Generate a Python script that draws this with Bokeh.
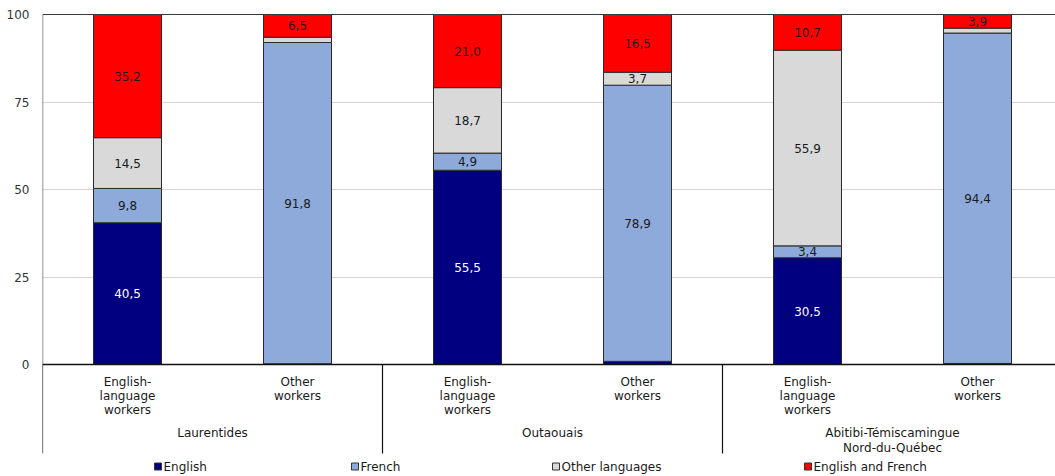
from bokeh.plotting import figure
from bokeh.models import ColumnDataSource, Range1d, FixedTicker
from bokeh.core.properties import value
from bokeh.embed import file_html
from bokeh.resources import INLINE

# Share of workers by language used at work, by region and worker group (%)
regions = ["Laurentides", "Outaouais", "Abitibi-Témiscamingue\nNord-du-Québec"]
worker_groups = ["English-\nlanguage\nworkers", "Other\nworkers"]
series = ["English", "French", "Other languages", "English and French"]
english = [40.5, 0.2, 55.5, 0.9, 30.5, 0.3]
french = [9.8, 91.8, 4.9, 78.9, 3.4, 94.4]
other_languages = [14.5, 1.5, 18.7, 3.7, 55.9, 1.4]
english_and_french = [35.2, 6.5, 21.0, 16.5, 10.7, 3.9]
y_ticks = [0, 25, 50, 75, 100]

colors = ["#000080", "#8eaadb", "#d9d9d9", "#ff0000"]
label_colors = ["#ffffff", "#1a1a1a", "#1a1a1a", "#1a1a1a"]
FONT = "DejaVu Sans"
FS = "12px"

W, H = 1055, 476
LEFT = 42          # frame left edge in px
CAT_PX = 170       # px per category slot
ZERO_PX = 364      # y px of value 0
PX_PER_UNIT = 3.5  # px per percentage point
Y_MAX = 100        # value axis maximum; bars are clipped there


def xd(px):
    return (px - LEFT) / CAT_PX


def yd(py):
    return (ZERO_PX - py) / PX_PER_UNIT


n = len(english)
xs = [i + 0.5 for i in range(n)]
data = dict(x=xs)
keys = ["english", "french", "other", "both"]
for k, vals in zip(keys, [english, french, other_languages, english_and_french]):
    data[k] = vals
src = ColumnDataSource(data)

p = figure(width=W, height=H, output_backend="svg", toolbar_location=None,
           x_range=Range1d(0, xd(W)), y_range=Range1d(yd(H), yd(0)),
           min_border_left=LEFT, min_border_right=0, min_border_top=0,
           min_border_bottom=0)
p.outline_line_color = None
p.background_fill_color = "white"
p.border_fill_color = "white"
p.xaxis.visible = False
p.xgrid.visible = False

yax = p.yaxis[0]
yax.ticker = FixedTicker(ticks=y_ticks)
yax.axis_line_color = None
yax.major_tick_line_color = None
yax.minor_tick_line_color = None
yax.major_label_standoff = 7
yax.major_label_text_font = FONT
yax.major_label_text_font_size = FS
yax.major_label_text_color = "#333333"

p.ygrid.ticker = FixedTicker(ticks=[25, 50, 75])
p.ygrid.grid_line_color = "#d4d4d4"
p.ygrid.grid_line_width = 1

# stacked bars
p.vbar_stack(keys, x="x", width=0.4, source=src, fill_color=colors,
             line_color="#2b2b2b", line_width=1)

# plot area ends at the axis maximum: mask anything drawn above it
xmax = xd(W)
p.quad(left=[0], right=[xmax], bottom=[Y_MAX], top=[yd(0) + 1],
       fill_color="white", line_color=None)

# value labels centred in each segment large enough to hold them
lx, ly, lt, lc = [], [], [], []
for i in range(n):
    base = 0.0
    for k, col in zip(keys, label_colors):
        v = data[k][i]
        if v >= 3:
            top = min(base + v, Y_MAX)
            lx.append(xs[i])
            ly.append((base + top) / 2)
            lt.append(f"{v:.1f}".replace(".", ","))
            lc.append(col)
        base += v
p.text(x=lx, y=ly, text=lt, text_color=lc, text_align="center",
       text_baseline="middle", text_font=value(FONT), text_font_size=FS)

# frame lines: top border, left axis, baseline
p.segment(x0=[0], y0=[Y_MAX], x1=[xmax], y1=[Y_MAX], line_color="#3a3a3a", line_width=1)
p.segment(x0=[0], y0=[0], x1=[0], y1=[Y_MAX], line_color="#6e6e6e", line_width=1.5)
p.segment(x0=[0], y0=[0], x1=[xmax], y1=[0], line_color="#111111", line_width=1.5)

# group separators below the axis
sep_bottom = yd(453)
sep_x = [2 * g for g in range(len(regions))]
p.segment(x0=sep_x, y0=[0] * len(sep_x), x1=sep_x, y1=[sep_bottom] * len(sep_x),
          line_color="#111111", line_width=1.2)

# category labels
line_h = 13.8
cx, cy, ct = [], [], []
for i in range(n):
    lines = worker_groups[i % 2].split("\n")
    for j, ln in enumerate(lines):
        cx.append(xs[i])
        cy.append(yd(381.5 + j * line_h))
        ct.append(ln)
for g, name in enumerate(regions):
    for j, ln in enumerate(name.split("\n")):
        cx.append(2 * g + 1)
        cy.append(yd(432 + j * 15))
        ct.append(ln)
p.text(x=cx, y=cy, text=ct, text_color="#1a1a1a", text_align="center",
       text_baseline="middle", text_font=value(FONT), text_font_size=FS)

# legend
leg_px = [157.5, 354.5, 555.5, 807.5]
leg_y = yd(466)
p.rect(x=[xd(v) for v in leg_px], y=[leg_y] * 4, width=7, height=7,
       width_units="screen", height_units="screen", fill_color=colors,
       line_color="#333333", line_width=1)
p.text(x=[xd(v + 5.5) for v in leg_px], y=[leg_y] * 4, text=series,
       text_color="#1a1a1a", text_align="left", text_baseline="middle",
       text_font=value(FONT), text_font_size=FS)

open("out.html", "w").write(file_html(p, INLINE))
